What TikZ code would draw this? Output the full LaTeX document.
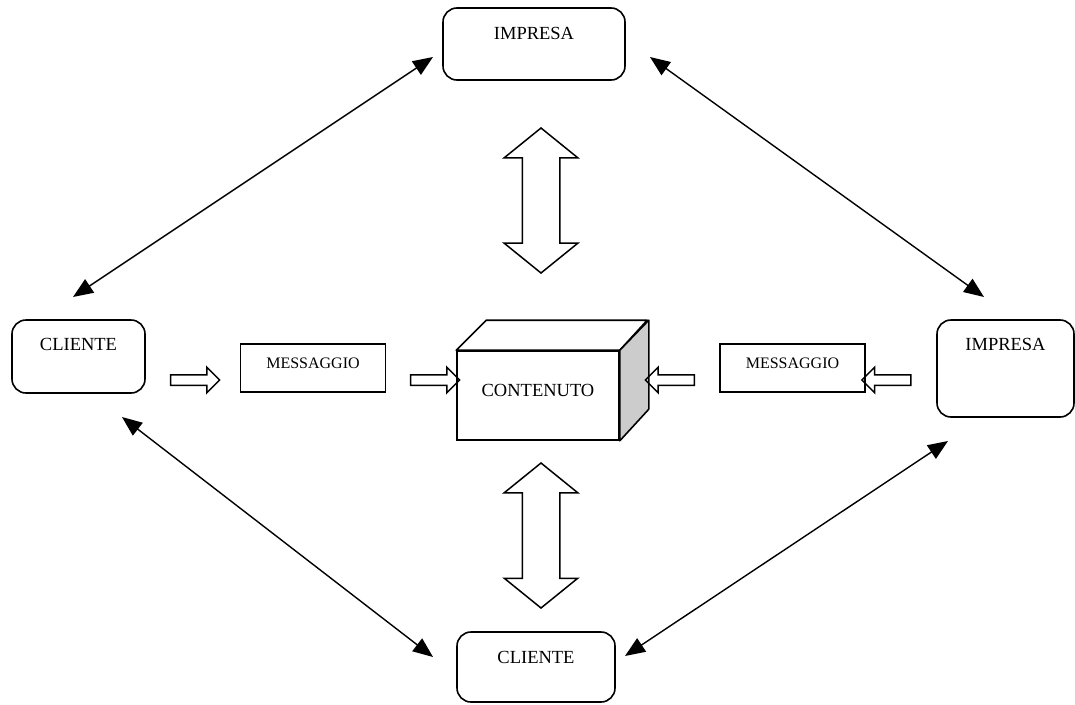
\documentclass[tikz,border=0pt]{standalone}
\usepackage{fontspec}
\setmainfont{Liberation Serif}
\usetikzlibrary{arrows.meta, shapes.arrows}

\begin{document}
\begin{tikzpicture}[x = 1pt, y = -1pt,
		ente/.style = {draw, rounded corners = 14pt, line width = 1.6pt, inner sep = 0pt, font = \fontsize{18.5}{20}\selectfont},
		msg/.style = {draw, line width = 1.6pt, inner sep = 0pt, minimum width = 145pt, text height = 24pt, text depth = 24pt, font = \fontsize{16}{18}\selectfont},
		flow/.style = {single arrow, draw, line width = 1.5pt, inner sep = 0pt, minimum height = 49pt, text height = 9pt, text depth = 0pt, single arrow head extend = 7.5pt},
		exchange/.style = {double arrow, draw, line width = 1.5pt, inner sep = 0pt, minimum height = 145pt, text height = 36pt, text depth = 0pt, double arrow head extend = 18pt, double arrow tip angle = 102, rotate = 90},
		bilink/.style = {{Triangle[length = 20pt, width = 16pt]}-{Triangle[length = 20pt, width = 16pt]}, line width = 1.4pt}]
			\useasboundingbox (0, 0) rectangle (1075, 704);
			% parti
			\node[ente, minimum width = 182pt, text height = 31pt, text depth = 41pt] (impT) at (534, 44) {IMPRESA};
			\node[ente, minimum width = 133pt, text height = 30pt, text depth = 43pt] (cliL) at (78.5, 356.5) {CLIENTE};
			\node[ente, minimum width = 137pt, text height = 30pt, text depth = 67pt] (impR) at (1005.5, 368.5) {IMPRESA};
			\node[ente, minimum width = 158pt, text height = 31pt, text depth = 39pt] (cliB) at (536, 667) {CLIENTE};
			% contenuto
			\node[draw, line width = 1.6pt, inner sep = 0pt, minimum width = 162pt, minimum height = 89pt, text height = 13pt, text depth = 12pt, font = \fontsize{18.5}{20}\selectfont] (cont) at (538, 395.5) {CONTENUTO};
			\draw[line width = 1.6pt, line join = round] (cont.north west) -- ++(30, -30) -- ++(161, 0) -- (cont.north east) -- cycle;
			\draw[line width = 1.6pt, line join = round, fill = gray!40] (cont.north east) -- ++(29, -30) -- ++(0, 89) -- (cont.south east) -- cycle;
			% messaggi
			\node[msg] (msgL) at (313, 368) {MESSAGGIO};
			\node[msg] (msgR) at (792.5, 368) {MESSAGGIO};
			\node[flow] (fl1) at (192.5, 380) {};
			\node[flow] (fl2) at (432.5, 380) {};
			\node[flow, rotate = 180] (fl3) at (672.5, 380) {};
			\node[flow, rotate = 180] (fl4) at (889, 380) {};
			\node[exchange] (exT) at (541, 200.5) {};
			\node[exchange] (exB) at (541, 535.5) {};
			% collegamenti
			\coordinate (a1) at (73, 297); \coordinate (a2) at (433, 57);
			\coordinate (b1) at (650, 57); \coordinate (b2) at (984, 297);
			\coordinate (c1) at (122, 417); \coordinate (c2) at (433, 657);
			\coordinate (d1) at (948, 441); \coordinate (d2) at (625, 656);
			\draw[bilink] (a1) -- (a2);
			\draw[bilink] (b1) -- (b2);
			\draw[bilink] (c1) -- (c2);
			\draw[bilink] (d1) -- (d2);
		\end{tikzpicture}
\end{document}
